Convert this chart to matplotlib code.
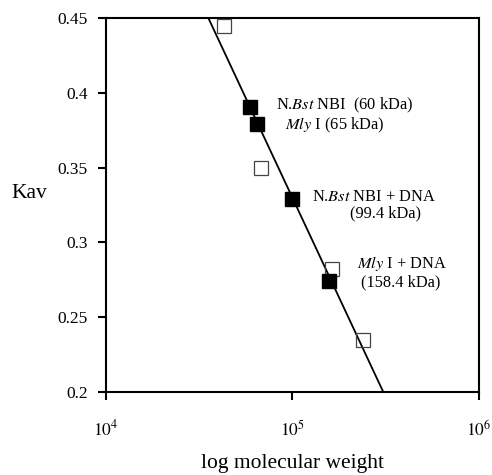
import numpy as np
import matplotlib
matplotlib.use("Agg")
import matplotlib.pyplot as plt
from matplotlib.ticker import FixedLocator, NullLocator

plt.rcParams['font.family'] = ['Liberation Serif', 'DejaVu Serif']
plt.rcParams['mathtext.fontset'] = 'stix'

# standards (open squares)
std_mw = [43000, 67800, 162000, 240000]
std_kav = [0.4447, 0.350, 0.2822, 0.2348]

# proteins / complexes (filled squares)
prot_mw = [59000, 64300, 99400, 157000]
prot_kav = [0.3905, 0.379, 0.329, 0.2744]

# calibration line end points
line_mw = [35400, 307000]
line_kav = [0.45, 0.20]

fig = plt.figure(figsize=(4.92, 4.75), dpi=100)
ax = fig.add_axes([0.2154, 0.1747, 0.758, 0.7874])

ax.plot(line_mw, line_kav, color='black', lw=1.3, zorder=2, clip_on=True)
ax.plot(std_mw, std_kav, 's', ms=9.6, mfc='none', mec='#444444', mew=0.9,
        zorder=3, clip_on=False)
ax.plot(prot_mw, prot_kav, 's', ms=9.4, mfc='black', mec='black',
        zorder=4, clip_on=False)

ax.set_xscale('log')
ax.set_xlim(1e4, 1e6)
ax.set_ylim(0.2, 0.45)
ax.xaxis.set_major_locator(FixedLocator([1e4, 1e5, 1e6]))
ax.xaxis.set_minor_locator(NullLocator())
ax.set_xticklabels([r'$10^4$', r'$10^5$', r'$10^6$'])
ax.set_yticks([0.2, 0.25, 0.3, 0.35, 0.4, 0.45])
ax.set_yticklabels(['0.2', '0.25', '0.3', '0.35', '0.4', '0.45'])

for s in ax.spines.values():
    s.set_linewidth(1.5)
ax.tick_params(axis='both', direction='out', length=6, width=1.5,
               labelsize=12.5)
ax.tick_params(axis='x', pad=14)
ax.tick_params(axis='y', pad=7)

ax.set_xlabel('log molecular weight', fontsize=15.5)
ax.xaxis.set_label_coords(0.5, -0.165)
ax.set_ylabel('Kav', fontsize=15.5, rotation=0)
ax.yaxis.set_label_coords(-0.205, 0.505)

fs = 11.8
ax.text(81600, 0.3915, r'N.$\mathit{Bst}$ NBI  (60 kDa)', fontsize=fs, va='center')
ax.text(91200, 0.3783, r'$\mathit{Mly}$ I (65 kDa)', fontsize=fs, va='center')
ax.text(127200, 0.3305, r'N.$\mathit{Bst}$ NBI + DNA', fontsize=fs, va='center')
ax.text(203000, 0.3197, '(99.4 kDa)', fontsize=fs, va='center')
ax.text(222000, 0.2858, r'$\mathit{Mly}$ I + DNA', fontsize=fs, va='center')
ax.text(233000, 0.2733, '(158.4 kDa)', fontsize=fs, va='center')

fig.savefig('out.png', dpi=100)
